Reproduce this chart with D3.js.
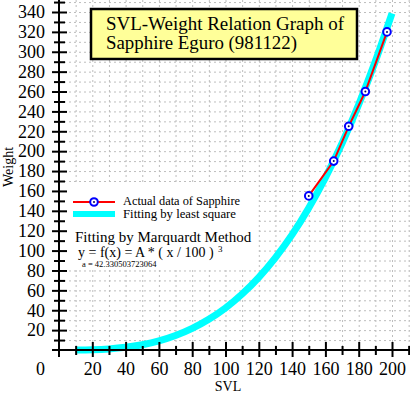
<!DOCTYPE html>
<html>
<head>
<meta charset="utf-8">
<script src="https://cdn.jsdelivr.net/npm/d3@7"></script>
<style>
  body { margin: 0; background: #fff; }
  svg { display: block; }
</style>
</head>
<body>
<svg id="chart" width="410" height="395"></svg>
<script>
// measured data (SVL, Weight)
var svlData = [150, 165, 174, 184, 197];
var weightData = [155, 190, 225, 260, 320];

// fitted curve (SVL, Weight)
var fitSvl = [10, 20, 30, 40, 50, 60, 70, 80, 90, 100, 110, 120, 130, 140, 150, 160, 170, 180, 190, 200];
var fitWeight = [0.04, 0.3, 1.1, 2.7, 5.3, 9.1, 14.5, 21.7, 30.9, 42.3, 56.3, 73.1, 93.0, 116.1, 142.9, 173.4, 207.9, 246.9, 290.4, 338.6];

var xMajor = [20, 40, 60, 80, 100, 120, 140, 160, 180, 200];
var xMinor = [10, 30, 50, 70, 90, 110, 130, 150, 170, 190, 210];
var yMajor = [20, 40, 60, 80, 100, 120, 140, 160, 180, 200, 220, 240, 260, 280, 300, 320, 340];
var yMinor = [10, 30, 50, 70, 90, 110, 130, 150, 170, 190, 210, 230, 250, 270, 290, 310, 330, 350];

var titleLines = ["SVL-Weight Relation Graph of", "Sapphire Eguro (981122)"];
var legendLabels = ["Actual data of Sapphire", "Fitting by least square"];

var serif = "'Liberation Serif', 'DejaVu Serif', serif";

var svg = d3.select("#chart");
var W = +svg.attr("width");

var x = d3.scaleLinear().domain([0, 200]).range([59, 392]);
var y = d3.scaleLinear().domain([0, 340]).range([350, 12]);

// grid
var grid = svg.append("g")
    .attr("stroke", "#bdbdbd")
    .attr("stroke-width", 1)
    .attr("stroke-dasharray", "2,3");

grid.selectAll(".vg")
    .data(d3.range(10, 211, 10))
    .enter().append("line")
    .attr("x1", function(d) { return x(d) + 0.5; })
    .attr("x2", function(d) { return x(d) + 0.5; })
    .attr("y1", 0)
    .attr("y2", y(0));

grid.selectAll(".hg")
    .data(d3.range(10, 351, 10))
    .enter().append("line")
    .attr("x1", x(0))
    .attr("x2", W)
    .attr("y1", function(d) { return y(d) + 0.5; })
    .attr("y2", function(d) { return y(d) + 0.5; });

// title box
svg.append("rect")
    .attr("x", 91).attr("y", 9)
    .attr("width", 266).attr("height", 50)
    .attr("fill", "#ffff99")
    .attr("stroke", "#000")
    .attr("stroke-width", 2.5);

svg.selectAll(".title")
    .data(titleLines)
    .enter().append("text")
    .attr("x", 106)
    .attr("y", function(d, i) { return 30 + i * 19; })
    .attr("font-family", serif)
    .attr("font-size", 18)
    .attr("textLength", function(d, i) { return i == 0 ? 238 : 191; })
    .attr("lengthAdjust", "spacingAndGlyphs")
    .text(function(d) { return d; });

// legend box
svg.append("rect")
    .attr("x", 64).attr("y", 184)
    .attr("width", 194).attr("height", 85)
    .attr("fill", "#fff");

// fitted curve
var fitLine = d3.line()
    .x(function(d) { return x(d[0]); })
    .y(function(d) { return y(d[1]); })
    .curve(d3.curveMonotoneX);

svg.append("path")
    .datum(d3.zip(fitSvl, fitWeight))
    .attr("d", fitLine)
    .attr("fill", "none")
    .attr("stroke", "#00ffff")
    .attr("stroke-width", 7);

// actual data
var dataLine = d3.line()
    .x(function(d) { return x(d[0]); })
    .y(function(d) { return y(d[1]); });

svg.append("path")
    .datum(d3.zip(svlData, weightData))
    .attr("d", dataLine)
    .attr("fill", "none")
    .attr("stroke", "#ff0000")
    .attr("stroke-width", 2);

var marker = function(sel) {
    sel.append("circle")
        .attr("r", 3.8)
        .attr("fill", "#fff")
        .attr("stroke", "#0000ff")
        .attr("stroke-width", 2);
    sel.append("circle")
        .attr("r", 1)
        .attr("fill", "#000066");
};

svg.selectAll(".pt")
    .data(d3.zip(svlData, weightData))
    .enter().append("g")
    .attr("transform", function(d) { return "translate(" + x(d[0]) + "," + y(d[1]) + ")"; })
    .call(marker);

// axes lines
svg.append("line")
    .attr("x1", x(0)).attr("x2", x(0))
    .attr("y1", 0).attr("y2", y(0) + 7)
    .attr("stroke", "#000").attr("stroke-width", 2);
svg.append("line")
    .attr("x1", x(0) - 7).attr("x2", W)
    .attr("y1", y(0)).attr("y2", y(0))
    .attr("stroke", "#000").attr("stroke-width", 2);

// y axis
var yAx = svg.append("g")
    .attr("transform", "translate(" + x(0) + ",0)")
    .call(d3.axisLeft(y).tickValues(yMajor).tickSize(0).tickFormat(d3.format("d")));
yAx.select(".domain").remove();
yAx.selectAll(".tick line").attr("x1", -7).attr("x2", 8).attr("stroke-width", 2);
yAx.selectAll(".tick text")
    .attr("x", -14)
    .attr("font-family", serif)
    .attr("font-size", 18)
    .attr("fill", "#000");

var yMin = svg.append("g")
    .attr("transform", "translate(" + x(0) + ",0)")
    .call(d3.axisLeft(y).tickValues(yMinor).tickSize(0).tickFormat(""));
yMin.select(".domain").remove();
yMin.selectAll(".tick line").attr("x1", -5).attr("x2", 6).attr("stroke-width", 2);

// x axis
var xAx = svg.append("g")
    .attr("transform", "translate(0," + y(0) + ")")
    .call(d3.axisBottom(x).tickValues(xMajor).tickSize(0).tickFormat(d3.format("d")));
xAx.select(".domain").remove();
xAx.selectAll(".tick line").attr("y1", -8).attr("y2", 7).attr("stroke-width", 2);
xAx.selectAll(".tick text")
    .attr("y", 25)
    .attr("dy", null)
    .attr("font-family", serif)
    .attr("font-size", 18)
    .attr("fill", "#000");

var xMin = svg.append("g")
    .attr("transform", "translate(0," + y(0) + ")")
    .call(d3.axisBottom(x).tickValues(xMinor).tickSize(0).tickFormat(""));
xMin.select(".domain").remove();
xMin.selectAll(".tick line").attr("y1", -4).attr("y2", 5).attr("stroke-width", 2);

// origin label
svg.append("text")
    .attr("x", 40.5).attr("y", 375)
    .attr("text-anchor", "middle")
    .attr("font-family", serif)
    .attr("font-size", 18)
    .text("0");

// axis titles
svg.append("text")
    .attr("x", 228).attr("y", 391)
    .attr("text-anchor", "middle")
    .attr("font-family", serif)
    .attr("font-size", 14)
    .text("SVL");

svg.append("text")
    .attr("transform", "translate(13,167) rotate(-90)")
    .attr("text-anchor", "middle")
    .attr("font-family", serif)
    .attr("font-size", 14)
    .text("Weight");

// legend
var lg = svg.append("g");
lg.append("line")
    .attr("x1", 73).attr("x2", 115).attr("y1", 202).attr("y2", 202)
    .attr("stroke", "#ff0000").attr("stroke-width", 2);
lg.append("g").attr("transform", "translate(94,202)").call(marker);
lg.append("line")
    .attr("x1", 73).attr("x2", 115).attr("y1", 214).attr("y2", 214)
    .attr("stroke", "#00ffff").attr("stroke-width", 6);
lg.selectAll(".lt")
    .data(legendLabels)
    .enter().append("text")
    .attr("x", 123)
    .attr("y", function(d, i) { return 205 + i * 12.5; })
    .attr("font-family", serif)
    .attr("font-size", 11.5)
    .attr("textLength", function(d, i) { return i == 0 ? 117 : 113; })
    .attr("lengthAdjust", "spacingAndGlyphs")
    .text(function(d) { return d; });

lg.append("text")
    .attr("x", 75).attr("y", 242)
    .attr("font-family", serif)
    .attr("font-size", 15)
    .text("Fitting by Marquardt Method");
lg.append("text")
    .attr("x", 78).attr("y", 257)
    .attr("font-family", serif)
    .attr("font-size", 14)
    .text("y = f(x) = A * ( x / 100 )");
lg.append("text")
    .attr("x", 218).attr("y", 252)
    .attr("font-family", serif)
    .attr("font-size", 9)
    .text("3");
lg.append("text")
    .attr("x", 82).attr("y", 267)
    .attr("font-family", serif)
    .attr("font-size", 8.5)
    .text("a = 42.330503723064");
</script>
</body>
</html>
